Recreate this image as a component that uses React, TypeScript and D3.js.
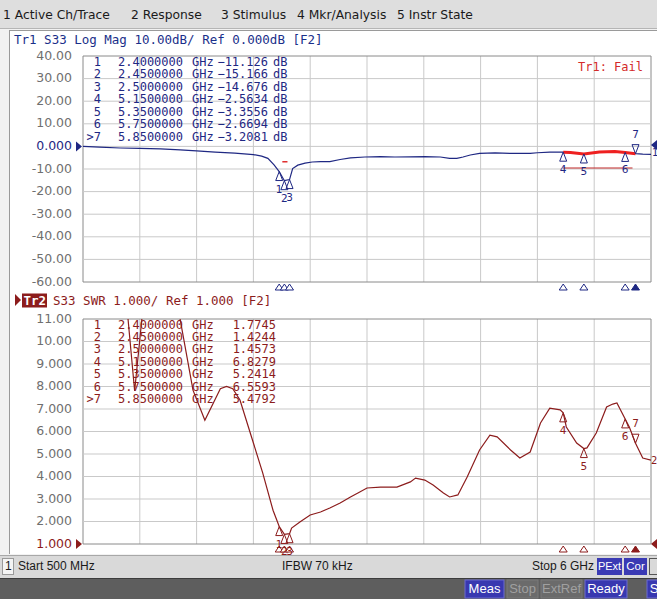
import * as d3 from "d3";

// ---- data ----
const topFreq = [0.5, 0.66, 0.86, 1.05, 1.25, 1.44, 1.6, 1.78, 1.97, 2.15, 2.23, 2.29, 2.35, 2.4, 2.45, 2.5, 2.53, 2.58, 2.65, 2.72, 2.8, 2.89, 2.99, 3.09, 3.23, 3.38, 3.52, 3.67, 3.81, 3.96, 4.05, 4.12, 4.18, 4.25, 4.34, 4.49, 4.66, 4.83, 4.9, 5.02, 5.15, 5.22, 5.35, 5.5, 5.65, 5.75, 5.85, 5.92, 6.0];
const topDb = [0, -0.3, -0.7, -0.9, -1.1, -1.5, -2.0, -2.5, -3.0, -3.6, -4.3, -5.3, -8.2, -11.126, -15.166, -14.676, -9.8, -8.3, -7.4, -6.9, -6.7, -6.7, -5.8, -5.1, -4.7, -4.5, -4.7, -4.6, -4.5, -4.7, -5.3, -5.3, -4.7, -3.8, -3.1, -2.9, -3.1, -3.1, -2.8, -2.5, -2.5634, -2.7, -3.3556, -2.5, -2.3, -2.6694, -3.2081, -3.4, -3.5];

const swrFreq = [0.5, 0.86, 0.92, 0.936, 1.0, 1.07, 1.15, 1.39, 1.44, 1.565, 1.68, 1.83, 1.89, 1.95, 2.02, 2.15, 2.24, 2.34, 2.4, 2.45, 2.5, 2.52, 2.6, 2.7, 2.8, 2.89, 2.99, 3.09, 3.18, 3.25, 3.38, 3.54, 3.67, 3.72, 3.81, 3.89, 3.99, 4.05, 4.13, 4.22, 4.34, 4.44, 4.51, 4.64, 4.73, 4.83, 4.93, 5.02, 5.12, 5.15, 5.18, 5.28, 5.35, 5.38, 5.47, 5.57, 5.63, 5.67, 5.75, 5.79, 5.85, 5.92, 6.0];
const swrVal = [22, 14, 12, 11, 7.8, 11, 13, 13, 11, 7.84, 6.5, 7.9, 8.0, 7.9, 7.4, 5.49, 4.16, 2.5, 1.7745, 1.4244, 1.4573, 1.71, 1.98, 2.29, 2.42, 2.6, 2.82, 3.09, 3.31, 3.49, 3.53, 3.53, 3.76, 3.93, 3.84, 3.62, 3.27, 3.09, 3.18, 3.98, 5.18, 5.84, 5.76, 5.18, 4.82, 5.09, 6.38, 7.04, 6.96, 6.8279, 6.2, 5.49, 5.2414, 5.27, 5.93, 7.09, 7.22, 7.27, 6.5593, 6.2, 5.4792, 4.82, 4.73];

const markerNum = ["1", "2", "3", "4", "5", "6", "7"];
const markerFreq = [2.4, 2.45, 2.5, 5.15, 5.35, 5.75, 5.85];
const markerDb = [-11.126, -15.166, -14.676, -2.5634, -3.3556, -2.6694, -3.2081];
const markerSwr = [1.7745, 1.4244, 1.4573, 6.8279, 5.2414, 6.5593, 5.4792];
const activeMarker = 6;

const topTicks = ["40.00", "30.00", "20.00", "10.00", "0.000", "-10.00", "-20.00", "-30.00", "-40.00", "-50.00", "-60.00"];
const botTicks = ["11.00", "10.00", "9.000", "8.000", "7.000", "6.000", "5.000", "4.000", "3.000", "2.000", "1.000"];

const limitFail = [5.15, 5.85];
const limitLine = { f: [5.15, 5.85], v: -10 };
const limitDash = { f: [2.43, 2.48], v: -6.8 };

const menuItems = ["1 Active Ch/Trace", "2 Response", "3 Stimulus", "4 Mkr/Analysis", "5 Instr State"];
const menuX = [3, 131, 221, 297, 397];

const BLUE = "#1f2883";
const RED = "#8c1c1c";
const GRID = "#c9c9c9";
const FRAME = "#8a8a8a";
const MONO = "'DejaVu Sans Mono', monospace";
const SANS = "'DejaVu Sans', sans-serif";
const UI = "'Liberation Sans', Arial, sans-serif";

const x = d3.scaleLinear().domain([0.5, 6]).range([83, 651]);
const yTop = d3.scaleLinear().domain([-60, 40]).range([282, 56]);
const yBot = d3.scaleLinear().domain([1, 11]).range([544, 319]);

const fmtVal = d3.format(".5");

function Marker({ cx, cy, label, color, active }: { cx: number; cy: number; label: string; color: string; active: boolean }) {
  if (active) {
    return (
      <g>
        <path d={`M${cx},${cy} L${cx - 3.5},${cy - 9} L${cx + 3.5},${cy - 9} Z`} fill="none" stroke={color} strokeWidth={1} />
        <text x={cx} y={cy - 19} fontFamily={SANS} fontSize={10.5} fill={color} textAnchor="middle" dominantBaseline="middle">{label}</text>
      </g>
    );
  }
  return (
    <g>
      <path d={`M${cx},${cy} L${cx - 3.5},${cy + 9} L${cx + 3.5},${cy + 9} Z`} fill="none" stroke={color} strokeWidth={1} />
      <text x={cx} y={cy + 18} fontFamily={SANS} fontSize={10.5} fill={color} textAnchor="middle" dominantBaseline="middle">{label}</text>
    </g>
  );
}

function Plot({ y, ticks, refIdx, color, clipId }: { y: d3.ScaleLinear<number, number>; ticks: string[]; refIdx: number; color: string; clipId: string }) {
  const [y0, y1] = y.range();
  const vLines = d3.range(11).map((i) => 0.5 + i * 0.55);
  const hVals = d3.range(11).map((i) => y.domain()[1] - (i * (y.domain()[1] - y.domain()[0])) / 10);
  return (
    <g>
      <defs>
        <clipPath id={clipId}>
          <rect x={83} y={y1} width={568} height={y0 - y1} />
        </clipPath>
      </defs>
      {vLines.map((f, i) => (
        <line key={"v" + i} x1={x(f)} x2={x(f)} y1={y1} y2={y0} stroke={i === 0 || i === 10 ? FRAME : GRID} strokeWidth={1} />
      ))}
      {hVals.map((v, i) => (
        <line key={"h" + i} x1={83} x2={651} y1={y(v)} y2={y(v)} stroke={i === 0 || i === 10 ? FRAME : GRID} strokeWidth={1} />
      ))}
      {ticks.map((t, i) => (
        <text key={"t" + i} x={72} y={y(hVals[i])} fontFamily={SANS} fontSize={12.5} fill={i === refIdx ? color : "#6f6f6f"} textAnchor="end" dominantBaseline="middle">{t}</text>
      ))}
      <path d={`M76,${y(hVals[refIdx]) - 5} L82,${y(hVals[refIdx])} L76,${y(hVals[refIdx]) + 5} Z`} fill={color} />
      {markerFreq.map((f, i) => {
        const cx = x(f);
        const by = y0 + 2;
        return (
          <path key={"s" + i} d={`M${cx},${by} L${cx - 4},${by + 6} L${cx + 4},${by + 6} Z`} fill={i === activeMarker ? color : "white"} stroke={color} strokeWidth={1} />
        );
      })}
    </g>
  );
}

function Button({ x0, w, label, on, y0, h }: { x0: number; w: number; label: string; on: boolean; y0: number; h: number }) {
  return (
    <g>
      <rect x={x0} y={y0} width={w} height={h} fill={on ? "#3838b0" : "#6b6b6b"} stroke={on ? "#6a6ad0" : "#7a7a7a"} strokeWidth={1} />
      <text x={x0 + w / 2} y={y0 + h / 2 + 0.5} fontFamily={UI} fontSize={13} fill={on ? "white" : "#a0a0a0"} textAnchor="middle" dominantBaseline="middle">{label}</text>
    </g>
  );
}

export default function App() {
  const topLine = d3.line<number>().x((_, i) => x(topFreq[i])).y((d) => yTop(d));
  const botLine = d3.line<number>().x((_, i) => x(swrFreq[i])).y((d) => yBot(d));
  const failIdx = topFreq.map((f, i) => i).filter((i) => topFreq[i] >= limitFail[0] && topFreq[i] <= limitFail[1]);
  const failLine = d3.line<number>().x((i) => x(topFreq[i])).y((i) => yTop(topDb[i]));

  const rowY = (base: number, i: number) => base + i * 12.45;

  return (
    <div style={{ position: "fixed", left: 0, top: 0 }}>
      <svg width={657} height={599} style={{ display: "block" }}>
        {/* menu bar */}
        <rect x={0} y={0} width={657} height={29} fill="#dedede" />
        <line x1={0} x2={657} y1={28.5} y2={28.5} stroke="#b5b5b5" />
        {menuItems.map((m, i) => (
          <text key={m} x={menuX[i]} y={15} fontFamily={SANS} fontSize={12.3} fill="#1a1a1a" dominantBaseline="middle">{m}</text>
        ))}

        {/* chart panel */}
        <rect x={0} y={29} width={657} height={526} fill="#f2f2f2" />
        <rect x={10} y={30} width={647} height={524} fill="white" />
        <line x1={9.5} x2={9.5} y1={30} y2={554} stroke="#9a9a9a" />
        <line x1={9.5} x2={657} y1={30.5} y2={30.5} stroke="#9a9a9a" />

        {/* top trace header */}
        <text x={14} y={40} fontFamily={MONO} fontSize={12.5} fill="#1a2f8a" dominantBaseline="middle">Tr1 S33 Log Mag 10.00dB/ Ref 0.000dB [F2]</text>

        <Plot y={yTop} ticks={topTicks} refIdx={4} color={BLUE} clipId="clipTop" />

        {/* top marker table */}
        {markerNum.map((n, i) => (
          <g key={"tt" + i} fontFamily={MONO} fontSize={12} fill={BLUE}>
            <text x={101} y={rowY(62.5, i)} textAnchor="end" dominantBaseline="middle">{i === activeMarker ? ">" + n : n}</text>
            <text x={118} y={rowY(62.5, i)} dominantBaseline="middle">{markerFreq[i].toFixed(7)}</text>
            <text x={192} y={rowY(62.5, i)} dominantBaseline="middle">GHz</text>
            <text x={268} y={rowY(62.5, i)} textAnchor="end" dominantBaseline="middle">{fmtVal(markerDb[i])}</text>
            <text x={273} y={rowY(62.5, i)} dominantBaseline="middle">dB</text>
          </g>
        ))}

        <text x={578} y={67} fontFamily={MONO} fontSize={12} fill="#d42a2a" dominantBaseline="middle">Tr1: Fail</text>

        {/* limit lines */}
        <line x1={x(limitLine.f[0])} x2={x(limitLine.f[1]) - 3} y1={yTop(limitLine.v) - 1} y2={yTop(limitLine.v) - 1} stroke="#c02828" strokeWidth={1.2} />
        <line x1={x(limitDash.f[0])} x2={x(limitDash.f[1])} y1={yTop(limitDash.v)} y2={yTop(limitDash.v)} stroke="#e03030" strokeWidth={1.5} />

        <g clipPath="url(#clipTop)">
          <path d={topLine(topDb) ?? ""} fill="none" stroke={BLUE} strokeWidth={1.2} />
          <path d={failLine(failIdx) ?? ""} fill="none" stroke="#ee2020" strokeWidth={3} />
        </g>
        {markerFreq.map((f, i) => (
          <Marker key={"mt" + i} cx={x(f)} cy={yTop(markerDb[i])} label={markerNum[i]} color={BLUE} active={i === activeMarker} />
        ))}
        <path d="M651,145 L657,140 L657,150 Z" fill={BLUE} />
        <text x={652} y={153} fontFamily={SANS} fontSize={10} fill={BLUE} dominantBaseline="middle">1</text>

        {/* bottom trace header */}
        <path d="M15,294 L21,300 L15,306 Z" fill={RED} />
        <rect x={22} y={293.5} width={25} height={14} fill={RED} />
        <text x={23.5} y={301} fontFamily={MONO} fontSize={12.5} fontWeight="bold" fill="white" dominantBaseline="middle">Tr2</text>
        <text x={53} y={301} fontFamily={MONO} fontSize={12.5} fill={RED} dominantBaseline="middle">S33 SWR 1.000/ Ref 1.000 [F2]</text>

        <Plot y={yBot} ticks={botTicks} refIdx={10} color={RED} clipId="clipBot" />

        {/* bottom marker table */}
        {markerNum.map((n, i) => (
          <g key={"bt" + i} fontFamily={MONO} fontSize={12} fill={RED}>
            <text x={101} y={rowY(325, i)} textAnchor="end" dominantBaseline="middle">{i === activeMarker ? ">" + n : n}</text>
            <text x={118} y={rowY(325, i)} dominantBaseline="middle">{markerFreq[i].toFixed(7)}</text>
            <text x={192} y={rowY(325, i)} dominantBaseline="middle">GHz</text>
            <text x={276} y={rowY(325, i)} textAnchor="end" dominantBaseline="middle">{fmtVal(markerSwr[i])}</text>
          </g>
        ))}

        <g clipPath="url(#clipBot)">
          <path d={botLine(swrVal) ?? ""} fill="none" stroke={RED} strokeWidth={1.2} />
        </g>
        {markerFreq.map((f, i) => (
          <Marker key={"mb" + i} cx={x(f)} cy={yBot(markerSwr[i])} label={markerNum[i]} color={RED} active={i === activeMarker} />
        ))}
        <text x={651} y={461} fontFamily={SANS} fontSize={10} fill={RED} dominantBaseline="middle">2</text>
        <path d="M651,544 L657,539 L657,549 Z" fill={RED} />

        {/* status bar */}
        <rect x={0} y={555} width={657} height={23} fill="#d9d9d9" />
        <line x1={0} x2={657} y1={555.5} y2={555.5} stroke="#a8a8a8" />
        <rect x={2.5} y={558.5} width={11} height={16} fill="#f4f4f4" stroke="#9a9a9a" />
        <text x={5} y={567} fontFamily={UI} fontSize={12} fill="#1a1a1a" dominantBaseline="middle">1</text>
        <text x={18} y={567} fontFamily={UI} fontSize={12} fill="#1a1a1a" dominantBaseline="middle">Start 500 MHz</text>
        <text x={282} y={567} fontFamily={UI} fontSize={12} fill="#1a1a1a" dominantBaseline="middle">IFBW 70 kHz</text>
        <text x={594} y={567} fontFamily={UI} fontSize={12} fill="#1a1a1a" textAnchor="end" dominantBaseline="middle">Stop 6 GHz</text>
        <rect x={597} y={558} width={25} height={17} fill="#3a3ab4" />
        <text x={609.5} y={567} fontFamily={UI} fontSize={11} fill="white" textAnchor="middle" dominantBaseline="middle">PExt</text>
        <rect x={624} y={558} width={23} height={17} fill="#3a3ab4" />
        <text x={635.5} y={567} fontFamily={UI} fontSize={11.5} fill="white" textAnchor="middle" dominantBaseline="middle">Cor</text>
        <rect x={649.5} y={558.5} width={10} height={16} fill="#d9d9d9" stroke="#555" />

        {/* bottom bar */}
        <rect x={0} y={578} width={657} height={21} fill="#5e5e5e" />
        <line x1={0} x2={657} y1={578.5} y2={578.5} stroke="#3c3c3c" />
        <Button x0={465} w={39} label="Meas" on={true} y0={580} h={18} />
        <Button x0={507} w={31} label="Stop" on={false} y0={580} h={18} />
        <Button x0={541} w={41} label="ExtRef" on={false} y0={580} h={18} />
        <Button x0={585} w={42} label="Ready" on={true} y0={580} h={18} />
        <Button x0={647} w={14} label="S" on={true} y0={580} h={18} />
      </svg>
    </div>
  );
}
